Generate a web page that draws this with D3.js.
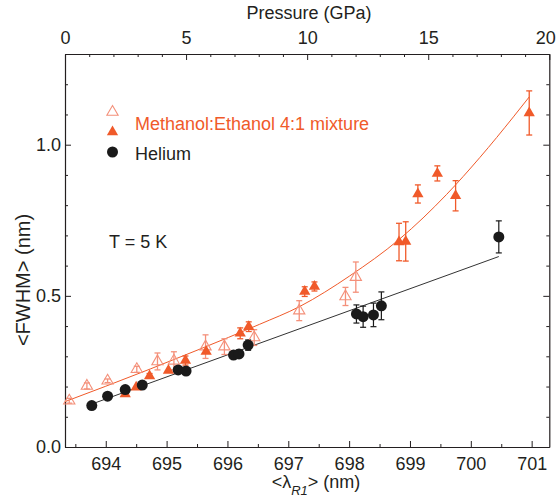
<!DOCTYPE html>
<html>
<head>
<meta charset="utf-8">
<script src="https://cdn.jsdelivr.net/npm/d3@7"></script>
<style>
  html, body { margin: 0; padding: 0; background: #fff; }
  svg { display: block; font-family: "Liberation Sans", Arial, Helvetica, sans-serif; }
</style>
</head>
<body>
<svg id="chart" width="557" height="500"></svg>
<script>
// ---------------- DATA ----------------
const heliumLambda = [693.77, 694.03, 694.32, 694.60, 695.19, 695.32, 696.10, 696.19, 696.34, 698.12, 698.23, 698.40, 698.53, 700.46];
const heliumFWHM   = [0.137, 0.168, 0.190, 0.205, 0.255, 0.251, 0.304, 0.308, 0.337, 0.440, 0.431, 0.437, 0.467, 0.695];
const heliumErr    = [0, 0, 0, 0, 0, 0, 0.010, 0.012, 0.017, 0.030, 0.035, 0.039, 0.046, 0.053];

const mixFilledLambda = [694.32, 694.50, 694.72, 695.03, 695.31, 695.65, 696.21, 696.35, 697.27, 697.43, 698.82, 698.93, 699.13, 699.45, 699.75, 700.96];
const mixFilledFWHM   = [0.175, 0.198, 0.235, 0.253, 0.286, 0.316, 0.376, 0.398, 0.514, 0.531, 0.678, 0.680, 0.837, 0.905, 0.831, 1.105];
const mixFilledErr    = [0, 0, 0.008, 0, 0.015, 0, 0.018, 0.016, 0.016, 0.015, 0.062, 0.065, 0.030, 0.025, 0.050, 0.073];

const mixOpenLambda = [693.40, 693.69, 694.03, 694.51, 694.85, 695.12, 695.64, 695.95, 696.44, 697.18, 697.94, 698.11];
const mixOpenFWHM   = [0.153, 0.202, 0.219, 0.257, 0.283, 0.285, 0.332, 0.332, 0.362, 0.451, 0.498, 0.562];
const mixOpenErr    = [0.008, 0.010, 0.006, 0.010, 0.028, 0.030, 0.039, 0.026, 0.026, 0.033, 0.030, 0.050];

const heliumFitLambda = [693.77, 700.46];
const heliumFitFWHM   = [0.142, 0.630];

const mixFitLambda = [693.33, 694.00, 694.73, 695.50, 696.53, 697.19, 698.01, 698.83, 699.60, 700.15, 700.70, 700.96];
const mixFitFWHM   = [0.150, 0.201, 0.258, 0.320, 0.406, 0.465, 0.566, 0.688, 0.835, 0.958, 1.092, 1.158];

const lambdaTicks   = [694, 695, 696, 697, 698, 699, 700, 701];
const pressureTicks = [0, 5, 10, 15, 20];
const fwhmTicks     = [0.0, 0.5, 1.0];

const legendLabels = ["Methanol:Ethanol 4:1 mixture", "Helium"];
const annotation = "T = 5 K";

// ---------------- LAYOUT ----------------
const svg = d3.select("#chart");
const L = 65, R = 549.3, T = 54, B = 447;
const orange = "#f05a2a", orangeLight = "#f4907a", black = "#1a1a1a", axisCol = "#231f20";

const x = d3.scaleLinear().domain([693.33, 701.29]).range([L, R]);
const xp = d3.scaleLinear().domain([0, 20]).range([L, R]);
const y = d3.scaleLinear().domain([0, 1.3]).range([B, T]);

const tickFont = 18;

function drawAxis(gen, transform, minorGen) {
  if (minorGen) {
    const gm = svg.append("g").attr("transform", transform).call(minorGen);
    gm.select(".domain").remove();
    gm.selectAll("text").remove();
    gm.selectAll("line").attr("stroke", axisCol).attr("stroke-width", 1);
  }
  const g = svg.append("g").attr("transform", transform);
  g.call(gen);
  g.select(".domain").attr("stroke", axisCol).attr("stroke-width", 1.2);
  g.selectAll("line").attr("stroke", axisCol).attr("stroke-width", 1);
  g.selectAll("text").attr("font-size", tickFont).attr("fill", axisCol)
    .attr("font-family", "Liberation Sans, Arial, sans-serif");
  return g;
}

// bottom axis
const bottomMinor = d3.axisBottom(x).tickValues(d3.range(693.5, 701.3, 1)).tickSize(-3).tickSizeOuter(0);
drawAxis(d3.axisBottom(x).tickValues(lambdaTicks).tickSize(-6).tickSizeOuter(0).tickPadding(10).tickFormat(d3.format("d")),
  `translate(0,${B})`, bottomMinor);

// top axis (pressure)
const topMinor = d3.axisTop(xp).tickValues(d3.range(1, 20, 1).filter(v => v % 5 !== 0)).tickSize(-3).tickSizeOuter(0);
const gT = drawAxis(d3.axisTop(xp).tickValues(pressureTicks).tickSize(-6).tickSizeOuter(0).tickPadding(10).tickFormat(d3.format("d")),
  `translate(0,${T})`, topMinor);
gT.selectAll(".tick text").filter(d => d === 20).attr("dx", -4);

// left axis
const minorY = d3.range(1, 13).map(i => i / 10).filter(v => Math.round(v * 10) % 5 !== 0);
const leftMinor = d3.axisLeft(y).tickValues(minorY).tickSize(-3).tickSizeOuter(0);
drawAxis(d3.axisLeft(y).tickValues(fwhmTicks).tickSize(-6).tickSizeOuter(0).tickPadding(4).tickFormat(d3.format(".1f")),
  `translate(${L},0)`, leftMinor);

// right axis
const rightMinor = d3.axisRight(y).tickValues(minorY).tickSize(-3).tickSizeOuter(0);
drawAxis(d3.axisRight(y).tickValues(fwhmTicks).tickSize(-6).tickSizeOuter(0).tickFormat(""),
  `translate(${R},0)`, rightMinor);

// axis titles
svg.append("text").attr("x", 309).attr("y", 19).attr("text-anchor", "middle")
  .attr("font-size", 18).attr("fill", axisCol).text("Pressure (GPa)");

const xt = svg.append("text").attr("x", 316).attr("y", 488).attr("text-anchor", "middle")
  .attr("font-size", 18).attr("fill", axisCol);
xt.append("tspan").text("<λ");
xt.append("tspan").attr("dy", 7).attr("font-size", 13).attr("font-style", "italic").text("R1");
xt.append("tspan").attr("dy", -7).text("> (nm)");

svg.append("text").attr("transform", "translate(30,280) rotate(-90)").attr("text-anchor", "middle")
  .attr("font-size", 20).attr("fill", axisCol).text("<FWHM> (nm)");

// ---------------- FIT LINES ----------------
const plot = svg.append("g");
const lineGen = d3.line().x(d => x(d[0])).y(d => y(d[1]));
plot.append("path").datum(d3.zip(heliumFitLambda, heliumFitFWHM))
  .attr("d", lineGen).attr("fill", "none").attr("stroke", "#333").attr("stroke-width", 1);
plot.append("path").datum(d3.zip(mixFitLambda, mixFitFWHM))
  .attr("d", lineGen.curve(d3.curveMonotoneX)).attr("fill", "none").attr("stroke", orange).attr("stroke-width", 1);

// ---------------- ERROR BARS ----------------
function errorBars(lx, ly, le, color, width) {
  const data = d3.zip(lx, ly, le).filter(d => d[2] > 0);
  const g = plot.append("g").attr("stroke", color).attr("stroke-width", width).attr("fill", "none");
  g.selectAll("line.v").data(data).join("line")
    .attr("x1", d => x(d[0])).attr("x2", d => x(d[0]))
    .attr("y1", d => y(d[1] - d[2])).attr("y2", d => y(d[1] + d[2]));
  g.selectAll("line.t").data(data).join("line")
    .attr("x1", d => x(d[0]) - 3).attr("x2", d => x(d[0]) + 3)
    .attr("y1", d => y(d[1] + d[2])).attr("y2", d => y(d[1] + d[2]));
  g.selectAll("line.b").data(data).join("line")
    .attr("x1", d => x(d[0]) - 3).attr("x2", d => x(d[0]) + 3)
    .attr("y1", d => y(d[1] - d[2])).attr("y2", d => y(d[1] - d[2]));
}

errorBars(mixOpenLambda, mixOpenFWHM, mixOpenErr, orangeLight, 1.3);
errorBars(mixFilledLambda, mixFilledFWHM, mixFilledErr, orange, 1.3);
errorBars(heliumLambda, heliumFWHM, heliumErr, black, 1.2);

// ---------------- MARKERS ----------------
const tri = d3.symbol().type(d3.symbolTriangle).size(55);
plot.append("g").selectAll("path").data(d3.zip(mixOpenLambda, mixOpenFWHM)).join("path")
  .attr("d", tri).attr("transform", d => `translate(${x(d[0])},${y(d[1])})`)
  .attr("fill", "none").attr("stroke", orangeLight).attr("stroke-width", 1.1);
plot.append("g").selectAll("path").data(d3.zip(mixFilledLambda, mixFilledFWHM)).join("path")
  .attr("d", tri).attr("transform", d => `translate(${x(d[0])},${y(d[1])})`)
  .attr("fill", orange);
plot.append("g").selectAll("circle").data(d3.zip(heliumLambda, heliumFWHM)).join("circle")
  .attr("cx", d => x(d[0])).attr("cy", d => y(d[1])).attr("r", 5.5).attr("fill", black);

// ---------------- LEGEND ----------------
const lg = svg.append("g");
lg.append("path").attr("d", tri).attr("transform", "translate(112.5,112)")
  .attr("fill", "none").attr("stroke", orangeLight).attr("stroke-width", 1.1);
lg.append("path").attr("d", tri).attr("transform", "translate(112.5,132)").attr("fill", orange);
lg.append("circle").attr("cx", 112.5).attr("cy", 152).attr("r", 5.5).attr("fill", black);
lg.append("text").attr("x", 135).attr("y", 130).attr("font-size", 18).attr("fill", orange).text(legendLabels[0]);
lg.append("text").attr("x", 135).attr("y", 160).attr("font-size", 18).attr("fill", axisCol).text(legendLabels[1]);

svg.append("text").attr("x", 109).attr("y", 248).attr("font-size", 18).attr("fill", axisCol).text(annotation);
</script>
</body>
</html>
